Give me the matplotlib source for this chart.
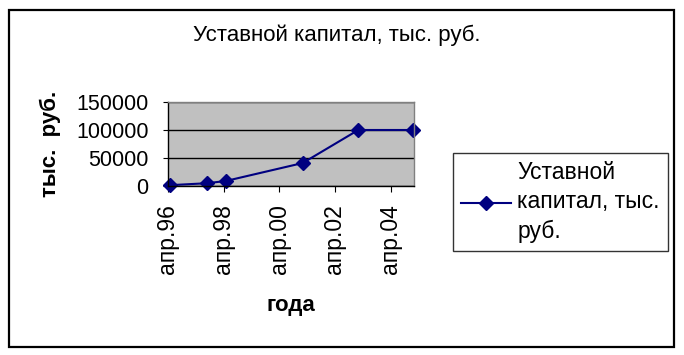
import numpy as np
import matplotlib
matplotlib.use("Agg")
import matplotlib.pyplot as plt
import matplotlib.dates as mdates
from matplotlib.patches import Rectangle
import datetime as dt

plt.rcParams['font.family'] = ['Liberation Sans', 'DejaVu Sans']

# data
dates = [dt.date(1996, 5, 1), dt.date(1997, 9, 1), dt.date(1998, 5, 1),
         dt.date(2001, 2, 1), dt.date(2003, 2, 1), dt.date(2005, 1, 15)]
capital = [1500, 5000, 9000, 41000, 100000, 100000]
yticks = [0, 50000, 100000, 150000]
months = ["янв", "фев", "мар", "апр", "май", "июн", "июл", "авг", "сен", "окт", "ноя", "дек"]
title = "Уставной капитал, тыс. руб."
series_name = "Уставной\nкапитал, тыс.\nруб."

fig = plt.figure(figsize=(6.84, 3.55), dpi=100)
fig.patch.set_facecolor("white")

# outer chart border
fig.add_artist(Rectangle((9/684, 1-347/355), 665/684, 337/355, transform=fig.transFigure,
                         fill=False, edgecolor="black", linewidth=1.6))

ax = fig.add_axes([168/684, 1-186/355, 246/684, 84/355])
ax.set_facecolor("#C0C0C0")
line, = ax.plot(dates, capital, color="#000080", marker="D", markersize=7, linewidth=1.5,
                label=series_name, clip_on=False)

ax.set_xlim(dt.date(1996, 4, 1), dt.date(2005, 2, 1))
ax.set_ylim(0, 150000)
ax.set_yticks(yticks)
ax.xaxis.set_major_locator(mdates.YearLocator(2, month=4, day=1))
ax.xaxis.set_major_formatter(plt.FuncFormatter(
    lambda v, p: months[mdates.num2date(v).month-1] + "." + mdates.num2date(v).strftime("%y")))

for s in ax.spines.values():
    s.set_color("#808080")
    s.set_linewidth(1)
ax.spines['left'].set_color("black")
ax.spines['bottom'].set_color("black")
ax.grid(axis="y", color="black", linewidth=1)
ax.tick_params(axis="y", direction="out", length=3.6, labelsize=15.5, pad=10.5)
ax.tick_params(axis="x", direction="out", length=4.3, labelsize=16.5, pad=9, labelrotation=90)

ax.set_ylabel("тыс.  руб.", fontsize=16, fontweight="bold")
ax.yaxis.set_label_coords((61-168)/246, 0.5)
ax.set_xlabel("года", fontsize=16, fontweight="bold", labelpad=15)

fig.text(337/684, 1-35/355, title, ha="center", va="center", fontsize=16)

leg = fig.legend(handles=[line], loc="center left", bbox_to_anchor=(453/684, 1-202/355),
                 fontsize=16.5, frameon=True, fancybox=False, edgecolor="black",
                 handlelength=2.2, borderpad=0.35, labelspacing=0.15, handletextpad=0.25,
                 borderaxespad=0)
leg.get_frame().set_linewidth(1)
for t in leg.get_texts():
    t.set_linespacing(1.35)

fig.savefig("out.png", dpi=100)
